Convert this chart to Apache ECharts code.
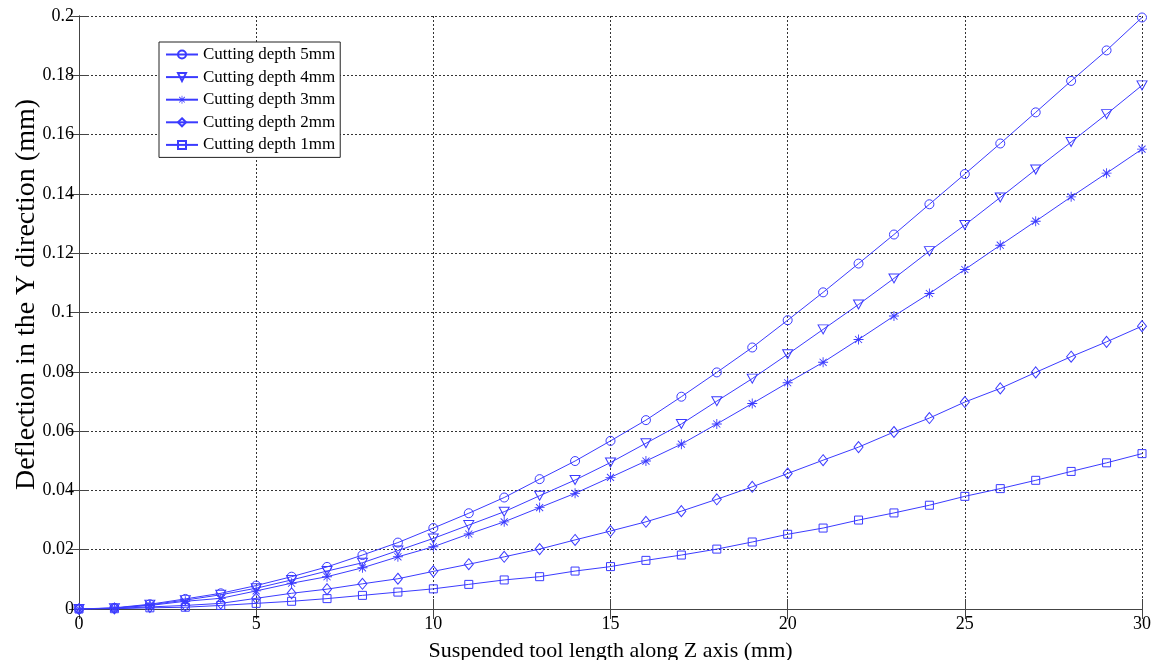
<!DOCTYPE html>
<html>
<head>
<meta charset="utf-8">
<script src="https://cdn.jsdelivr.net/npm/echarts@6/dist/echarts.min.js"></script>
<style>html,body{margin:0;padding:0;background:#fff;}#c{width:1158px;height:660px;}</style>
</head>
<body>
<div id="c"></div>
<script>
const xValues = [0,1,2,3,4,5,6,7,8,9,10,11,12,13,14,15,16,17,18,19,20,21,22,23,24,25,26,27,28,29,30];
const depth5 = [0,0.0004,0.0016,0.0034,0.0053,0.0079,0.0109,0.0142,0.0182,0.0224,0.0273,0.0323,0.0376,0.0438,0.0499,0.0567,0.0637,0.0716,0.0798,0.0882,0.0974,0.1068,0.1165,0.1263,0.1365,0.1467,0.1570,0.1675,0.1781,0.1884,0.1995];
const depth4 = [0,0.0003,0.0014,0.0030,0.0048,0.0070,0.0098,0.0128,0.0156,0.0197,0.0238,0.0283,0.0328,0.0382,0.0435,0.0494,0.0559,0.0624,0.0701,0.0777,0.0859,0.0943,0.1027,0.1115,0.1207,0.1295,0.1388,0.1482,0.1575,0.1669,0.1766];
const depth3 = [0,0.0003,0.0012,0.0026,0.0036,0.0061,0.0087,0.0109,0.0139,0.0176,0.0210,0.0253,0.0294,0.0342,0.0390,0.0444,0.0499,0.0556,0.0624,0.0693,0.0763,0.0832,0.0909,0.0988,0.1064,0.1145,0.1227,0.1308,0.1390,0.1470,0.1551];
const depth2 = [0,0.0002,0.0007,0.0012,0.0019,0.0036,0.0053,0.0067,0.0085,0.0102,0.0127,0.0151,0.0176,0.0202,0.0233,0.0263,0.0294,0.0330,0.0370,0.0412,0.0457,0.0502,0.0546,0.0597,0.0644,0.0698,0.0744,0.0798,0.0851,0.0901,0.0954];
const depth1 = [0,0.0001,0.0004,0.0006,0.0012,0.0019,0.0026,0.0035,0.0046,0.0057,0.0068,0.0083,0.0098,0.0109,0.0128,0.0143,0.0164,0.0182,0.0202,0.0226,0.0252,0.0273,0.0300,0.0324,0.0350,0.0380,0.0406,0.0434,0.0464,0.0493,0.0524];
const seriesNames = ['Cutting depth 5mm','Cutting depth 4mm','Cutting depth 3mm','Cutting depth 2mm','Cutting depth 1mm'];
const xTicks = {min: 0, max: 30, interval: 5};
const yTicks = {min: 0, max: 0.2, interval: 0.02};
const xTitle = 'Suspended tool length along Z axis (mm)';
const yTitle = 'Deflection in the Y direction (mm)';

const BLUE = '#3b3bff';
const FONT = 'Liberation Serif';
const starPath = 'path://M9.1,0L10.9,0L10.9,20L9.1,20Z M0,9.1L20,9.1L20,10.9L0,10.9Z M3.6,2.3L17.7,16.4L16.4,17.7L2.3,3.6Z M16.4,2.3L17.7,3.6L3.6,17.7L2.3,16.4Z';

function pairs(arr){ return xValues.map((x,i)=>[x,arr[i]]); }

const symbolDefs = [
  {symbol:'circle', size:9, rotate:0, hollow:true},
  {symbol:'triangle', size:[10,9], rotate:180, hollow:true},
  {symbol:starPath, size:10, rotate:0, hollow:false},
  {symbol:'diamond', size:[9,11], rotate:0, hollow:true},
  {symbol:'rect', size:8, rotate:0, hollow:true}
];
const dataSets = [depth5, depth4, depth3, depth2, depth1];

const series = dataSets.map((d,i)=>({
  name: seriesNames[i],
  type: 'line',
  data: pairs(d),
  symbol: symbolDefs[i].symbol,
  symbolSize: symbolDefs[i].size,
  symbolRotate: symbolDefs[i].rotate,
  showAllSymbol: true,
  animation: false,
  lineStyle: {color: BLUE, width: 1},
  itemStyle: symbolDefs[i].hollow
    ? {color: 'rgba(255,255,255,0)', borderColor: BLUE, borderWidth: 1}
    : {color: BLUE, borderWidth: 0},
  emphasis: {disabled: true}
}));

const axisLine = {show: true, lineStyle: {color: '#444', width: 1}};
const tickIn = {show: true, inside: true, length: 10, lineStyle: {color: '#444', width: 1}};
const labelStyle = {color: '#000', fontFamily: FONT, fontSize: 18};
const gridDots = {show: true, lineStyle: {color: '#333', width: 1, type: [2, 2]}};

const chart = echarts.init(document.getElementById('c'), null, {renderer: 'canvas'});
chart.setOption({
  animation: false,
  backgroundColor: '#fff',
  grid: {left: 79, right: 16, top: 16, bottom: 51, containLabel: false, outerBoundsMode: 'none'},
  legend: {
    data: seriesNames,
    left: 159, top: 42,
    orient: 'vertical',
    backgroundColor: '#fff',
    borderColor: '#222', borderWidth: 1,
    padding: [4, 5, 4, 6],
    itemWidth: 32, itemHeight: 10, itemGap: 5.6,
    textStyle: {fontFamily: FONT, fontSize: 17, color: '#000', lineHeight: 17},
    selectedMode: false
  },
  xAxis: [
    {type: 'value', min: xTicks.min, max: xTicks.max, interval: xTicks.interval,
     name: xTitle, nameLocation: 'middle', nameGap: 31, nameMoveOverlap: false,
     nameTextStyle: {fontFamily: FONT, fontSize: 22, color: '#000'},
     axisLine: axisLine, axisTick: tickIn,
     axisLabel: Object.assign({margin: 6}, labelStyle),
     splitLine: gridDots},
    {type: 'value', position: 'top', min: xTicks.min, max: xTicks.max, interval: xTicks.interval,
     axisLine: axisLine, axisTick: tickIn, axisLabel: {show: false}, splitLine: {show: false}}
  ],
  yAxis: [
    {type: 'value', min: yTicks.min, max: yTicks.max, interval: yTicks.interval,
     name: yTitle, nameLocation: 'middle', nameGap: 38, nameMoveOverlap: false,
     nameTextStyle: {fontFamily: FONT, fontSize: 28, color: '#000', padding: [0, 0, 0, 36]},
     axisLine: axisLine, axisTick: tickIn,
     axisLabel: Object.assign({margin: 5, formatter: v => String(+v.toFixed(2))}, labelStyle),
     splitLine: gridDots},
    {type: 'value', position: 'right', min: yTicks.min, max: yTicks.max, interval: yTicks.interval,
     axisLine: axisLine, axisTick: tickIn, axisLabel: {show: false}, splitLine: {show: false}}
  ],
  series: series
});
</script>
</body>
</html>
